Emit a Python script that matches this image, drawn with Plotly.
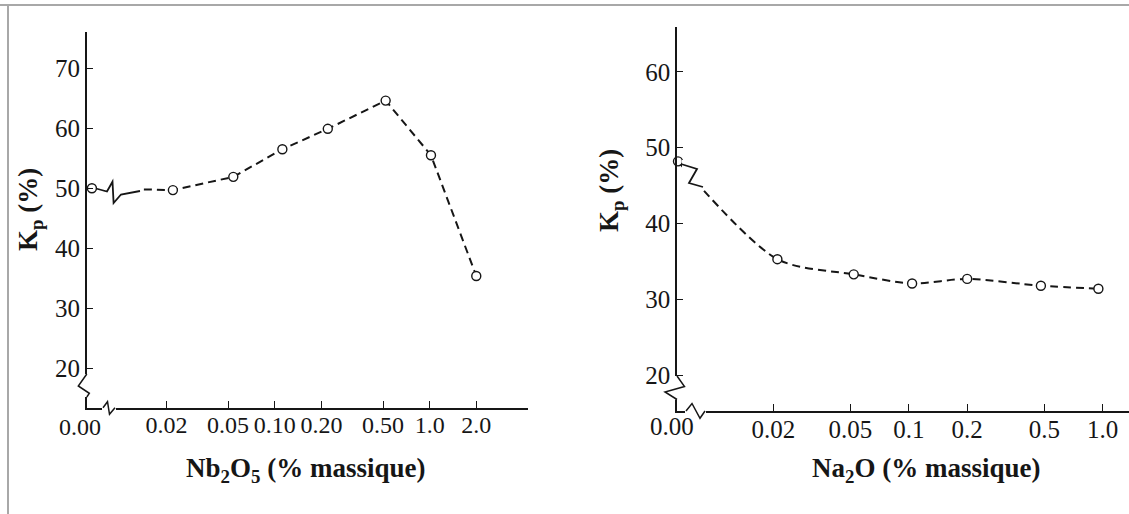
import math
import plotly.graph_objects as go

# ---------------- data ----------------
# Left panel: Kp vs Nb2O5 content (% massique)
nb_x = [0.0, 0.022, 0.054, 0.112, 0.22, 0.52, 1.02, 2.0]
nb_kp = [50.0, 49.7, 51.9, 56.5, 59.9, 64.6, 55.5, 35.4]
nb_ticks = [0.02, 0.05, 0.10, 0.20, 0.50, 1.0, 2.0]
nb_ticktext = ["0.02", "0.05", "0.10", "0.20", "0.50", "1.0", "2.0"]

# Right panel: Kp vs Na2O content (% massique)
na_x = [0.0, 0.021, 0.052, 0.104, 0.2, 0.48, 0.95]
na_kp = [48.2, 35.3, 33.3, 32.1, 32.7, 31.8, 31.4]
na_ticks = [0.02, 0.05, 0.1, 0.2, 0.5, 1.0]
na_ticktext = ["0.02", "0.05", "0.1", "0.2", "0.5", "1.0"]

y_left_ticks = [20, 30, 40, 50, 60, 70]
y_right_ticks = [20, 30, 40, 50, 60]

# position used on the broken log axis for the 0.00 % composition
NB_ZERO_POS = 0.0066
NA_ZERO_POS = 0.00645

W, H = 1129, 514
FONT = "Liberation Serif"
INK = "#161616"


def px(x):
    return x / W


def py(y):
    return 1 - y / H


def to_plot(xs, zero):
    return [zero if v == 0 else v for v in xs]


fig = go.Figure()

fig.add_trace(go.Scatter(
    x=to_plot(nb_x, NB_ZERO_POS), y=nb_kp, mode="lines+markers",
    line=dict(color=INK, width=2, dash="8px,5px"),
    marker=dict(symbol="circle", size=9, color="white", line=dict(color=INK, width=1.4)),
    xaxis="x", yaxis="y", hoverinfo="skip", showlegend=False, cliponaxis=False,
))
fig.add_trace(go.Scatter(
    x=to_plot(na_x, NA_ZERO_POS), y=na_kp, mode="lines+markers",
    line=dict(color=INK, width=2, dash="8px,5px", shape="spline", smoothing=0.8),
    marker=dict(symbol="circle", size=9, color="white", line=dict(color=INK, width=1.4)),
    xaxis="x2", yaxis="y2", hoverinfo="skip", showlegend=False, cliponaxis=False,
))

axis_common = dict(
    showline=True, linecolor=INK, linewidth=1.5, showgrid=False, zeroline=False,
    ticks="inside", tickcolor=INK, tickwidth=1.3,
    tickfont=dict(family=FONT, size=25, color=INK),
)

fig.update_layout(
    width=W, height=H,
    margin=dict(l=0, r=0, t=0, b=0),
    paper_bgcolor="white", plot_bgcolor="white",
    showlegend=False,
    xaxis=dict(
        axis_common, type="log", domain=[86.8 / W, 528 / W],
        range=[-2.2134, 0.635], tickvals=nb_ticks, ticktext=nb_ticktext,
        ticklen=7, anchor="y", tickangle=0, ticklabelstandoff=-5,
    ),
    yaxis=dict(
        axis_common, domain=[py(407.7), py(31.7)], range=[13.47, 76.07],
        tickvals=y_left_ticks, ticklen=6, anchor="x",
    ),
    xaxis2=dict(
        axis_common, type="log", domain=[677 / W, 1.0],
        range=[-2.1955, 0.1356], tickvals=na_ticks, ticktext=na_ticktext,
        ticklen=7, anchor="y2", tickangle=0, ticklabelstandoff=-5,
    ),
    yaxis2=dict(
        axis_common, domain=[py(411), py(26.7)], range=[15.28, 65.96],
        tickvals=y_right_ticks, ticklen=6, anchor="x2",
    ),
)
fig.update_xaxes(tickfont=dict(family=FONT, size=24, color=INK), selector=dict(anchor="y"))

# ---- decorations: axis-break marks, frame lines ----
shapes = []


def mask(x0, y0, x1, y1):
    shapes.append(dict(type="rect", xref="paper", yref="paper",
                       x0=px(x0), x1=px(x1), y0=py(y0), y1=py(y1),
                       fillcolor="white", line=dict(width=0), layer="above"))


def zig(points, width=1.5):
    d = "M " + " L ".join(f"{px(a):.5f},{py(b):.5f}" for a, b in points)
    shapes.append(dict(type="path", xref="paper", yref="paper", path=d,
                       line=dict(color=INK, width=width), layer="above"))


# left panel breaks
mask(84, 374, 90, 397)
zig([(86.8, 374), (78.3, 386), (89.3, 393.3), (86.8, 397)])
mask(102, 405, 116, 410)
zig([(103, 407.7), (107.5, 401.7), (109.5, 414.3), (115, 407.7)])
mask(97, 184, 140, 196)
zig([(96, 188.5), (107, 191.5), (112.5, 181.7), (113.6, 203), (121, 194.5), (140, 191)], width=1.8)

# right panel breaks
mask(674, 376, 680, 399.5)
zig([(677, 376), (684.5, 386.5), (665, 392), (677, 399.5)])
mask(685, 408.5, 706, 413.5)
zig([(686, 411), (692, 403.5), (700, 418.3), (705, 411)])
mask(682, 160, 704, 191)
zig([(681, 164), (697, 169), (689, 183), (703, 187)], width=1.8)

# scan frame
shapes.append(dict(type="line", xref="paper", yref="paper", x0=0, x1=1, y0=py(5), y1=py(5),
                   line=dict(color="#a8a8a8", width=2), layer="above"))
shapes.append(dict(type="line", xref="paper", yref="paper", x0=px(8), x1=px(8), y0=py(5), y1=0,
                   line=dict(color="#a8a8a8", width=2), layer="above"))

fig.update_layout(shapes=shapes)

# ---- texts ----
ann = []


def text(x, y, s, size, angle=0, bold=False):
    ann.append(dict(xref="paper", yref="paper", x=px(x), y=py(y), text=(f"<b>{s}</b>" if bold else s),
                    showarrow=False, xanchor="center", yanchor="middle", textangle=angle,
                    font=dict(family=FONT, size=size, color=INK)))


text(80, 427, "0.00", 24)
text(672, 426, "0.00", 25)
text(305, 470, "Nb<sub>2</sub>O<sub>5</sub> (% massique)", 27, bold=True)
text(926, 470, "Na<sub>2</sub>O (% massique)", 27, bold=True)
text(30, 210, "K<sub>p</sub> (%)", 27, angle=-90, bold=True)
text(611, 190, "K<sub>p</sub> (%)", 27, angle=-90, bold=True)

fig.update_layout(annotations=ann)

fig.write_html(
    "out.html",
    config={"displayModeBar": False},
    post_script="document.body.style.margin='0';document.body.style.overflow='hidden';",
)
